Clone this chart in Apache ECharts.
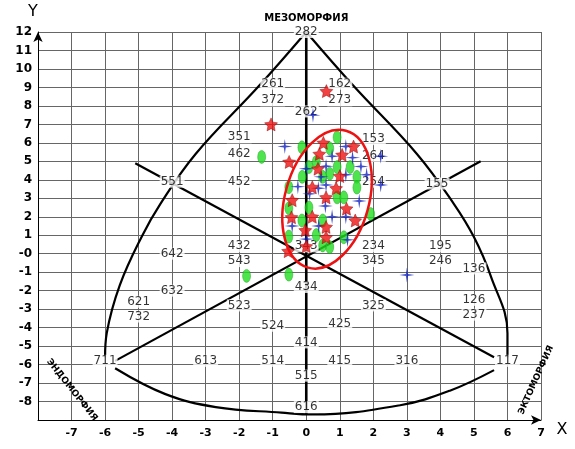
<!DOCTYPE html>
<html><head><meta charset="utf-8">
<script src="https://cdn.jsdelivr.net/npm/echarts@6/dist/echarts.min.js"></script>
<style>html,body{margin:0;padding:0;background:#fff}#c{width:575px;height:449px}</style>
</head><body><div id="c"></div>
<script>
var xTicks=[-7,-6,-5,-4,-3,-2,-1,0,1,2,3,4,5,6,7];
var yTicks=[-8,-7,-6,-5,-4,-3,-2,-1,0,1,2,3,4,5,6,7,8,9,10,11,12];
var redStars=[[0.6,8.8],[-1.05,7.0],[0.51,6.0],[1.41,5.8],[-0.51,4.97],[0.39,5.4],[1.07,5.35],[0.35,4.6],[1.0,4.2],[0.18,3.6],[0.89,3.54],[0.59,3.05],[-0.42,2.9],[1.2,2.44],[-0.44,1.97],[0.18,2.0],[1.46,1.8],[0.59,1.45],[-0.03,1.27],[0.59,0.89],[0,0.4],[-0.54,0.14]];
var greenOvals=[[0.92,6.3],[-0.13,5.76],[0.7,5.7],[-1.33,5.24],[0.3,4.97],[0.08,4.69],[0.92,4.69],[1.31,4.69],[0.7,4.33],[0.49,4.16],[-0.12,4.16],[1.51,4.16],[1.51,3.58],[-0.52,3.6],[0.92,3.05],[1.12,3.05],[0.08,2.5],[-0.52,2.46],[1.92,2.15],[-0.13,1.8],[0.49,1.8],[-0.52,0.93],[0.3,1.01],[1.12,0.89],[0.49,0.45],[0.7,0.36],[-1.78,-1.2],[-0.52,-1.13]];
var blueCrosses=[[0.2,7.5],[-0.64,5.8],[1.18,5.8],[0.77,5.28],[1.38,5.2],[2.22,5.28],[1.63,4.72],[0.59,4.73],[0,4.6],[1.8,4.27],[1.18,4.27],[0.44,4.16],[2.22,3.72],[-0.25,3.63],[0.59,3.72],[0.1,3.24],[0.36,3.54],[1.58,2.85],[0.57,2.58],[0.77,2.0],[1.18,2.0],[-0.42,1.5],[0.37,1.5],[0,0.79],[1.23,0.75],[3.0,-1.15]];
var leftCurve=[[0,12],[-1.4,9.1],[-3.3,5.4],[-4.35,2.7],[-4.9,0.95],[-5.56,-1.7],[-5.95,-4.3],[-6,-5.6]];
var rightCurve=[[0,12],[1.4,9.1],[3.3,5.4],[4.4,2.7],[5.0,0.9],[5.5,-1.2],[6,-4.3],[6,-5.6]];
var bottomCurve=[[-5.7,-6.2],[-4.2,-7.6],[-2.7,-8.3],[-0.74,-8.6],[0.2,-8.7],[2.8,-8.2],[4.3,-7.4],[5.6,-6.3]];
var diagUp=[[-5.7,-5.8],[5.2,5.0]];
var diagDown=[[-5.1,4.9],[5.6,-5.6]];
var vertLine=[[0,12],[0,-8.7]];
var zoneLabels=[[0,12,'282'],[-1,9.2,'261'],[-1,8.3,'372'],[1,9.2,'162'],[1,8.3,'273'],[0,7.7,'262'],[-2,6.3,'351'],[-2,5.4,'462'],[-2,3.9,'452'],[-4,3.9,'551'],[2,6.2,'153'],[2,5.3,'264'],[2,3.9,'254'],[3.9,3.8,'155'],[0,0.4,'343'],[-2,0.4,'432'],[-2,-0.4,'543'],[-4,0,'642'],[-4,-2,'632'],[-5,-2.6,'621'],[-5,-3.4,'732'],[-2,-2.8,'523'],[-1,-3.9,'524'],[0,-1.8,'434'],[2,0.4,'234'],[2,-0.4,'345'],[4,0.4,'195'],[4,-0.4,'246'],[5,-0.8,'136'],[2,-2.8,'325'],[5,-2.5,'126'],[5,-3.3,'237'],[1,-3.8,'425'],[0,-4.8,'414'],[-3,-5.8,'613'],[-1,-5.8,'514'],[1,-5.8,'415'],[3,-5.8,'316'],[-6,-5.8,'711'],[6,-5.8,'117'],[0,-6.6,'515'],[0,-8.3,'616']];
var ellipseCenter=[0.62,2.95];

var chart=echarts.init(document.getElementById('c'));
function lineS(d,extra){return Object.assign({type:'line',data:d,smooth:d.length>2?0.4:false,symbol:'none',lineStyle:{color:'#000',width:2.2},z:2,silent:true},extra||{});}
var opt={
 animation:false,
 grid:{left:38,right:34,top:32,bottom:29},
 xAxis:{type:'value',min:-8,max:7,interval:1,axisLine:{show:true,onZero:false,lineStyle:{color:'#000'},symbol:['none','arrow'],symbolSize:[7,10]},
  axisTick:{show:false},splitLine:{lineStyle:{color:'#666',width:1}},
  axisLabel:{margin:8,fontFamily:'DejaVu Sans',fontWeight:'bold',fontSize:11,color:'#000',formatter:function(v){return v===-8?'':String(v);}}},
 yAxis:{type:'value',min:-9,max:12,interval:1,axisLine:{show:true,onZero:false,lineStyle:{color:'#000'},symbol:['none','arrow'],symbolSize:[7,10]},
  axisTick:{show:false},splitLine:{lineStyle:{color:'#666',width:1}},
  axisLabel:{margin:6,fontFamily:'DejaVu Sans',fontWeight:'bold',fontSize:12,color:'#000',formatter:function(v){return v===-9?'':(v===0?'-0':String(v));}}},
 series:[
  lineS(leftCurve),lineS(rightCurve),lineS(bottomCurve),lineS(diagUp),lineS(diagDown),lineS(vertLine,{lineStyle:{color:'#000',width:2.6}}),
  {type:'scatter',data:zoneLabels,symbolSize:1,itemStyle:{color:'transparent'},z:4,silent:true,
   label:{show:true,position:'inside',formatter:function(p){return p.data[2];},fontFamily:'DejaVu Sans',fontSize:12,color:'#000',backgroundColor:'#fff',padding:[0,1]}},
  {type:'scatter',data:greenOvals,symbol:'circle',symbolSize:[8,13],itemStyle:{color:'#22dd22',borderColor:'#119911',borderWidth:0.5},z:6},
  {type:'scatter',data:blueCrosses,symbol:'path://M0,-10 L1.3,-1.3 L10,0 L1.3,1.3 L0,10 L-1.3,1.3 L-10,0 L-1.3,-1.3Z',symbolSize:15,itemStyle:{color:'#1020c0'},z:7},
  {type:'scatter',data:redStars,symbol:'path://M0,-10 L2.9,-4 L9.5,-3.1 L4.7,1.5 L5.9,8.1 L0,5 L-5.9,8.1 L-4.7,1.5 L-9.5,-3.1 L-2.9,-4Z',symbolSize:13,itemStyle:{color:'#ee1111',borderColor:'#800',borderWidth:0.5},z:8}
 ]
};
chart.setOption(opt);
var cPix=chart.convertToPixel({gridIndex:0},ellipseCenter);
var topPix=chart.convertToPixel({gridIndex:0},[0,12]);
chart.setOption({graphic:[
 {type:'ellipse',shape:{cx:0,cy:0,rx:42,ry:71},x:cPix[0],y:cPix[1],rotation:-0.27,style:{fill:'none',stroke:'#ee1111',lineWidth:2.5},z:20},
 {type:'text',x:topPix[0],y:18,style:{text:'МЕЗОМОРФИЯ',fontFamily:'DejaVu Sans',fontWeight:'bold',fontSize:10,fill:'#000',align:'center',verticalAlign:'middle'},z:30},
 {type:'text',x:33,y:12,style:{text:'Y',fontFamily:'DejaVu Sans',fontSize:16,fill:'#000',align:'center',verticalAlign:'middle'},z:30},
 {type:'text',x:562,y:430,style:{text:'X',fontFamily:'DejaVu Sans',fontSize:16,fill:'#000',align:'center',verticalAlign:'middle'},z:30},
 {type:'text',x:72,y:390,rotation:-0.9,style:{text:'ЭНДОМОРФИЯ',fontFamily:'DejaVu Sans',fontWeight:'bold',fontSize:9,fill:'#000',align:'center',verticalAlign:'middle'},z:30},
 {type:'text',x:536,y:380,rotation:1.15,style:{text:'ЭКТОМОРФИЯ',fontFamily:'DejaVu Sans',fontWeight:'bold',fontSize:9,fill:'#000',align:'center',verticalAlign:'middle'},z:30}
]});
</script></body></html>
